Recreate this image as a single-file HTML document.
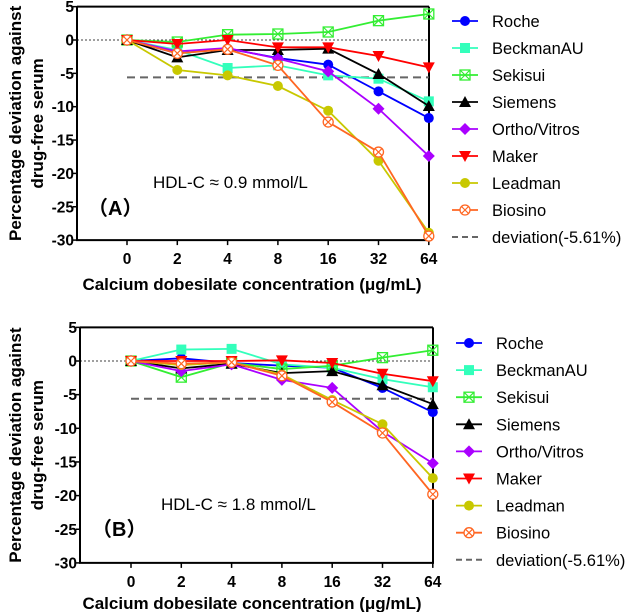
<!DOCTYPE html>
<html><head><meta charset="utf-8"><style>
body{margin:0;background:#fff;}
svg{display:block;font-family:"Liberation Sans",Arial,sans-serif;}
</style></head><body>
<svg id="chart" width="641" height="612"></svg>
<script>
const categories=["0","2","4","8","16","32","64"];
const yTicks=[5,0,-5,-10,-15,-20,-25,-30];
const seriesNames=["Roche","BeckmanAU","Sekisui","Siemens","Ortho/Vitros","Maker","Leadman","Biosino"];
const seriesColors=["#0000ff","#33ffbb","#33ee33","#000000","#aa00ff","#ff0000","#c8c800","#ff6622"];
const seriesMarkers=["circle","square","xsquare","tri","diamond","tridown","circle","xcircle"];
const deviationValue=-5.61;
const valuesA=[
[0,-2.0,-1.3,-2.7,-3.7,-7.7,-11.7],
[0,-1.5,-4.2,-3.8,-5.3,-5.8,-9.2],
[0,-0.3,0.8,0.9,1.2,2.9,3.9],
[0,-2.6,-1.5,-1.5,-1.3,-5.1,-9.9],
[0,-1.7,-1.2,-2.8,-4.7,-10.3,-17.4],
[0,-0.6,0,-1.1,-1.1,-2.4,-4.1],
[0,-4.5,-5.3,-6.9,-10.6,-18.1,-28.9],
[0,-2.0,-1.4,-3.8,-12.3,-16.8,-29.4]];
const valuesB=[
[0,0.4,-0.3,-0.7,-1.0,-4.0,-7.6],
[0,1.7,1.8,-0.5,-1.0,-2.7,-3.9],
[0,-2.4,-0.3,-1.2,-0.7,0.5,1.6],
[0,-1.1,-0.4,-1.8,-1.5,-3.6,-6.4],
[0,-1.5,-0.5,-2.8,-4.0,-10.5,-15.2],
[0,0,0,0.1,-0.3,-1.9,-3.0],
[0,-0.6,-0.2,-2.0,-5.8,-9.4,-17.4],
[0,-0.4,-0.2,-2.2,-6.1,-10.7,-19.8]];

const NS="http://www.w3.org/2000/svg";
const svg=document.getElementById('chart');
function mk(tag,attrs,parent){const e=document.createElementNS(NS,tag);for(const k in attrs)e.setAttribute(k,attrs[k]);(parent||svg).appendChild(e);return e;}
function txt(s,attrs,parent){const e=mk('text',attrs,parent);e.textContent=s;return e;}
function marker(g,type,x,y,c){
  let e;
  if(type==='circle'){e=mk('circle',{cx:x,cy:y,r:5,fill:c},g);}
  else if(type==='square'){e=mk('rect',{x:x-5,y:y-5,width:10,height:10,fill:c},g);}
  else if(type==='xsquare'){e=mk('g',{},g);mk('rect',{x:x-5,y:y-5,width:10,height:10,fill:'none',stroke:c,'stroke-width':1.3},e);mk('path',{d:`M${x-5} ${y-5}L${x+5} ${y+5}M${x+5} ${y-5}L${x-5} ${y+5}`,stroke:c,'stroke-width':1.2},e);}
  else if(type==='tri'){e=mk('path',{d:`M${x} ${y-6}L${x+6} ${y+5}L${x-6} ${y+5}Z`,fill:c},g);}
  else if(type==='tridown'){e=mk('path',{d:`M${x} ${y+6}L${x+6} ${y-5}L${x-6} ${y-5}Z`,fill:c},g);}
  else if(type==='diamond'){e=mk('path',{d:`M${x} ${y-6}L${x+6} ${y}L${x} ${y+6}L${x-6} ${y}Z`,fill:c},g);}
  else if(type==='xcircle'){e=mk('g',{},g);mk('circle',{cx:x,cy:y,r:5,fill:'#fff',stroke:c,'stroke-width':1.3},e);mk('path',{d:`M${x-3.5} ${y-3.5}L${x+3.5} ${y+3.5}M${x+3.5} ${y-3.5}L${x-3.5} ${y+3.5}`,stroke:c,'stroke-width':1.2},e);}
  return e;
}
function panel(P){
  const g=mk('g',{});
  
  
  const xS=i=>P.x0+i*P.dx;
  const yS=v=>P.y0-v*P.ky;
  const top=yS(5),bot=yS(-30);
  const ax=mk('path',{d:`M${P.xl} ${top}L${P.xl} ${bot}L${P.xr} ${bot}L${P.xr} ${top}M${P.xl} ${top}L${P.xr} ${top}`,fill:'none',stroke:'#000','stroke-width':2},g);
  
  yTicks.forEach(t=>{
    const y=yS(t);
    mk('line',{x1:P.xl-4,x2:P.xl,y1:y,y2:y,stroke:'#000','stroke-width':1.5},g);
    const l=txt(String(t),{x:P.xl-3,y:y+5.5,'text-anchor':'end','font-size':15.5,'font-weight':'bold'},g);
    
  });
  categories.forEach((c,i)=>{
    const x=xS(i);
    mk('line',{x1:x,x2:x,y1:bot,y2:bot+5,stroke:'#000','stroke-width':1.5},g);
    const l=txt(c,{x:x,y:bot+24,'text-anchor':'middle','font-size':15.5,'font-weight':'bold'},g);
    
  });
  const z=mk('line',{x1:P.xl,x2:P.xr,y1:yS(0),y2:yS(0),stroke:'#000','stroke-width':0.8,'stroke-dasharray':'2,2'},g);
  
  const dv=mk('line',{x1:xS(0),x2:xS(6),y1:yS(deviationValue),y2:yS(deviationValue),stroke:'#666','stroke-width':2,'stroke-dasharray':'8,5'},g);
  
  P.vals.forEach((vals,si)=>{
    const sg=mk('g',{},g);
    
    
    mk('polyline',{points:vals.map((v,i)=>xS(i)+','+yS(v)).join(' '),fill:'none',stroke:seriesColors[si],'stroke-width':1.8},sg);
    vals.forEach((v,i)=>{const m=marker(sg,seriesMarkers[si],xS(i),yS(v),seriesColors[si]);
      });
  });
  const yt=txt('',{transform:`translate(${P.ytx},${(top+bot)/2}) rotate(-90)`,'text-anchor':'middle','font-size':17,'font-weight':'bold'},g);
  
  const t1=mk('tspan',{x:0,y:0},yt);t1.textContent='Percentage deviation against';
  const t2=mk('tspan',{x:0,y:22},yt);t2.textContent='drug-free serum';
  const xt=txt('Calcium dobesilate concentration (μg/mL)',{x:P.xtx,y:P.xty,'text-anchor':'middle','font-size':17,'font-weight':'bold'},g);
  
  const h=txt(P.hdl,{x:P.hx,y:P.hy,'font-size':17},g);
  
  const pl=txt(P.lab,{x:P.lx,y:P.ly,'font-size':20,'font-weight':'bold',"font-family":'"Liberation Sans","Noto Sans CJK SC",sans-serif'},g);
  
  const lg=mk('g',{},g);
  
  seriesNames.concat(['deviation(-5.61%)']).forEach((n,i)=>{
    const y=P.legY+i*P.legDy;
    const e=mk('g',{},lg);
    
    if(i<8){mk('line',{x1:P.legX,x2:P.legX+26,y1:y,y2:y,stroke:seriesColors[i],'stroke-width':1.8},e);marker(e,seriesMarkers[i],P.legX+13,y,seriesColors[i]);}
    else mk('line',{x1:P.legX,x2:P.legX+26,y1:y,y2:y,stroke:'#666','stroke-width':2,'stroke-dasharray':'6,4'},e);
    txt(n,{x:P.legX+40,y:y+6,'font-size':16.5},e);
  });
}
panel({id:'a',vals:valuesA,x0:127,dx:50.3,y0:40,ky:6.67,xl:77,xr:429,ytx:21,xtx:252,xty:290,hdl:'HDL-C ≈  0.9 mmol/L',hx:153,hy:188,lab:'（A）',lx:88,ly:215,legX:452,legY:21,legDy:27});
panel({id:'b',vals:valuesB,x0:131,dx:50.3,y0:361,ky:6.73,xl:80,xr:433,ytx:21,xtx:252,xty:609,hdl:'HDL-C ≈ 1.8 mmol/L',hx:161,hy:510,lab:'（B）',lx:92,ly:536,legX:456,legY:343,legDy:27.1});
</script>
</body></html>
